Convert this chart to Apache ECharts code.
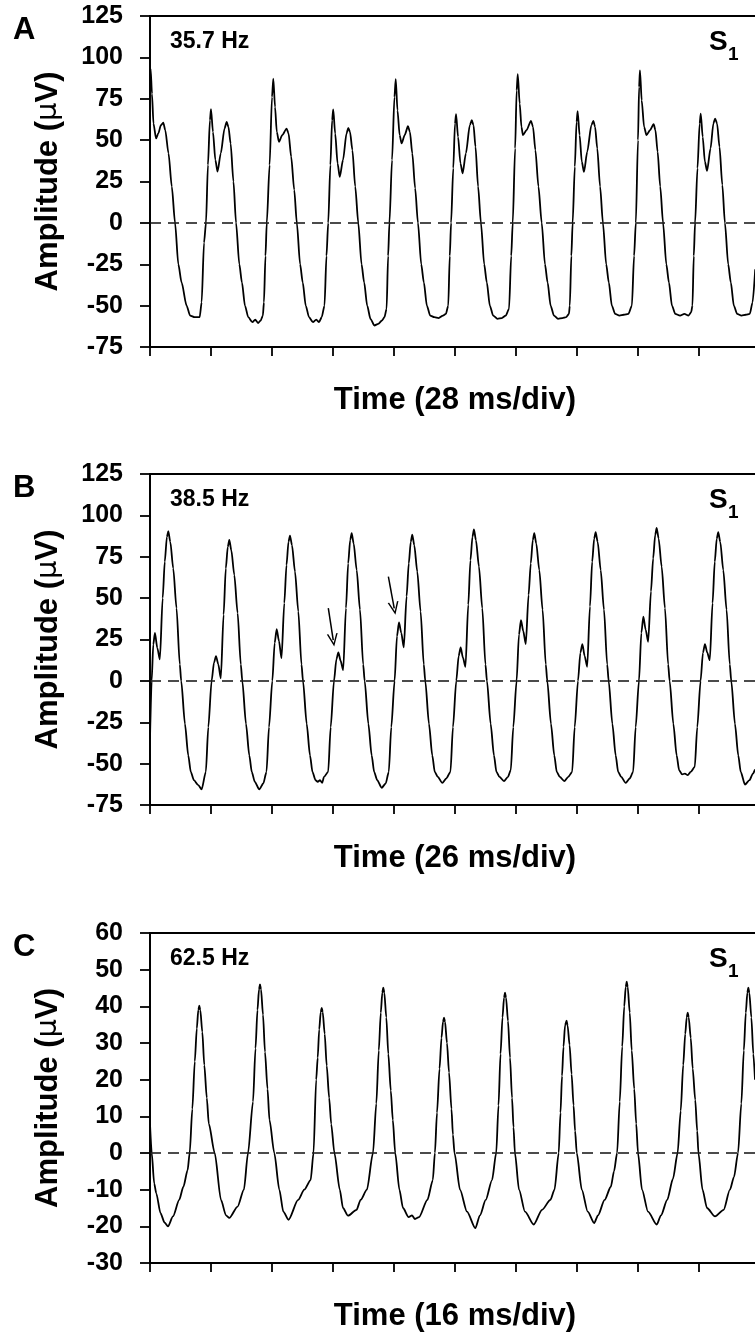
<!DOCTYPE html>
<html>
<head>
<meta charset="utf-8">
<script src="https://cdn.jsdelivr.net/npm/echarts@6/dist/echarts.min.js"></script>
<style>html,body{margin:0;padding:0;background:#fff}#c{width:755px;height:1336px}</style>
</head>
<body>
<div id="c"></div>
<script>
// ---------- DATA ----------
const panelLetters = ['A', 'B', 'C'];
const freqLabels = ['35.7 Hz', '38.5 Hz', '62.5 Hz'];
const xTitles = ['Time (28 ms/div)', 'Time (26 ms/div)', 'Time (16 ms/div)'];
const msPerDiv = [28, 26, 16];
const yMin = [-75, -75, -30];
const yMax = [125, 125, 60];
const yStep = [25, 25, 10];

// Panel A trace: [time ms, amplitude µV]
const traceA = [
 [0,86],[0.3,93],[0.9,78],[1.6,60],[2.8,51],[3.8,54],[5.0,59],[6.1,60.6],[7.0,56],[8.5,42],[10.0,22],[11.5,0],[13.0,-25],[14.5,-36],[16.8,-50],[18.4,-56],[20.5,-57],[22.8,-57],
 [23.7,-48],[24.8,-12],[25.7,0],[26.6,35],[27.5,62],[28.0,68.7],[28.9,55],[30.0,38],[31.0,31],[32.5,42],[34.2,57],[35.2,61],[36.0,58],[37.0,48],[38.3,25],[39.5,0],[41.0,-25],[42.2,-36],[43.6,-50],[45.1,-57],[47.0,-60],[48.3,-58.5],[49.6,-60.5],[50.8,-59],[51.8,-56],
 [52.3,-48],[53.0,-20],[53.6,0],[54.9,35],[56.0,76],[56.6,87.2],[57.4,70],[58.2,55],[59.2,49],[60.7,53],[62.7,57],[63.6,54],[64.8,40],[66.2,20],[67.4,0],[68.9,-25],[70.1,-36],[71.5,-50],[73.0,-57],[74.8,-60],[76.3,-58.5],[77.6,-60],[78.8,-57],
 [80.1,-50],[81.0,-20],[81.8,0],[82.8,35],[83.6,62],[84.1,68.5],[85.0,54],[86.1,36],[87.1,27.8],[88.6,38],[90.2,54],[91.0,57.4],[91.8,55],[92.9,44],[94.2,22],[95.6,0],[97.1,-25],[98.3,-36],[99.7,-50],[101.2,-58],[103.0,-62],[104.8,-61],[106.5,-59],[107.6,-57],
 [108.6,-52],[109.3,-20],[109.9,0],[111.1,38],[112.2,76],[112.8,86.8],[113.6,68],[114.6,53],[115.5,48],[116.9,53],[118.4,58.4],[119.3,55],[120.4,42],[121.7,21],[123.0,0],[124.5,-25],[125.7,-36],[127.1,-50],[128.6,-56],[130.5,-57],[132.5,-57.5],[134.5,-56],[135.8,-55],
 [136.9,-50],[137.6,-20],[138.2,0],[139.2,33],[140.0,60],[140.5,65.7],[141.4,52],[142.5,36],[143.5,30],[145.0,42],[146.8,59],[147.7,62],[148.5,59],[149.4,46],[150.6,22],[151.9,0],[153.4,-25],[154.6,-36],[156.0,-50],[157.5,-56],[159.5,-58],[161.5,-57.5],[163.3,-56],
 [164.8,-52],[165.8,-20],[166.5,0],[167.6,45],[168.3,80],[168.8,89.8],[169.7,72],[170.5,58],[171.2,53],[172.8,56],[174.9,61.6],[175.8,58],[176.9,44],[178.3,22],[179.8,0],[181.3,-25],[182.5,-36],[183.9,-50],[185.4,-56],[187.3,-58],[189.3,-57.5],[191.0,-57],[192.3,-55],
 [192.7,-50],[193.4,-20],[194.0,0],[195.0,34],[195.8,61],[196.3,67.5],[197.2,53],[198.2,37],[199.2,30.8],[200.7,43],[202.6,59],[203.5,61.6],[204.3,58],[205.3,45],[206.6,22],[207.9,0],[209.4,-25],[210.6,-36],[212.0,-50],[213.5,-55],[215.5,-56],[217.5,-55.5],[219.6,-55],
 [221.2,-50],[222.2,-20],[223.0,0],[224.0,50],[224.5,82],[224.9,92.2],[225.7,74],[226.8,58],[227.9,53],[229.5,56],[231.2,59.6],[232.0,56],[233.0,43],[234.2,22],[235.5,0],[237.0,-25],[238.2,-36],[239.6,-50],[241.1,-55],[243.3,-56],[245.3,-55],[247.2,-56],[248.4,-54],
 [249.0,-50],[249.6,-20],[250.2,0],[251.3,33],[252.3,60],[252.8,66],[253.7,52],[254.7,37],[255.7,31.4],[257.3,45],[258.6,60],[259.4,63],[260.3,60],[261.4,46],[262.7,23],[263.9,0],[265.4,-25],[266.6,-36],[268.0,-50],[269.5,-55],[271.5,-56],[273.5,-55.5],[275.3,-55],[276.6,-48],[277.8,-28]
];

// Panel B trace
const traceB = [
 [0,-35],[0.7,0],[1.4,22],[2.1,29],[3.1,20],[4.2,13],[5.4,50],[6.3,72],[7.2,87],[7.8,90.4],[8.65,84],[9.9,68],[11.3,44],[12.7,10],[13.3,0],[14.9,-26],[16.3,-45],[17.4,-55],[18.7,-60],[20.6,-63],[22.0,-65.6],
 [23.8,-55],[24.85,-28],[26.26,0],[27.28,11],[28.13,15],[29.11,10],[30.18,1.6],[31.37,40],[32.31,68],[33.16,81],[33.8,85.2],[34.65,79],[35.93,64],[37.34,41],[38.7,10],[39.34,0],[40.92,-26],[42.32,-45],[43.39,-55],[44.67,-61],[46.59,-65.6],[48.29,-62],
 [49.65,-55],[50.72,-28],[52.13,0],[53.15,23],[54.0,31.3],[54.98,24],[56.05,13.7],[57.24,47],[58.18,70],[59.03,84],[59.67,87.8],[60.52,82],[61.8,66],[63.21,42],[64.57,10],[65.21,0],[66.79,-26],[68.19,-45],[69.26,-55],[70.54,-60],[71.5,-61],[72.46,-60],[73.4,-61.6],[74.16,-58],
 [75.94,-55],[77.01,-28],[78.42,0],[79.44,13],[80.29,17.2],[81.27,12],[82.34,6.5],[83.53,44],[84.47,71],[85.32,85],[85.96,89.2],[86.81,83],[88.09,67],[89.5,43],[90.86,10],[91.5,0],[93.08,-26],[94.48,-45],[95.55,-55],[96.83,-60],[98.75,-64.6],[100.45,-62],
 [101.77,-55],[102.84,-28],[104.25,0],[105.27,27],[106.12,35.3],[107.1,29],[108.17,20.2],[109.36,51],[110.3,71],[111.15,84],[111.79,88.4],[112.64,82],[113.92,66],[115.33,42],[116.69,10],[117.33,0],[118.91,-26],[120.31,-45],[121.38,-55],[122.66,-58],[124.58,-61.6],[126.28,-59],
 [128.06,-55],[129.13,-28],[130.54,0],[131.56,15],[132.41,20.2],[133.39,14],[134.46,8.5],[135.65,46],[136.59,73],[137.44,87],[138.08,91.5],[138.93,85],[140.21,69],[141.62,44],[142.98,10],[143.62,0],[145.2,-26],[146.6,-45],[147.67,-55],[148.95,-58],[150.87,-60.6],[152.57,-58],
 [153.77,-54],[154.84,-28],[156.25,0],[157.27,28],[158.12,36.7],[159.1,30],[160.17,22.2],[161.36,52],[162.3,71],[163.15,85],[163.79,89.2],[164.64,83],[165.92,67],[167.33,43],[168.69,10],[169.33,0],[170.91,-26],[172.31,-45],[173.38,-55],[174.66,-58],[176.58,-60.6],[178.28,-58],
 [179.94,-55],[181.01,-28],[182.42,0],[183.44,17],[184.29,22.2],[185.27,15],[186.34,8.5],[187.53,45],[188.47,72],[189.32,86],[189.96,89.8],[190.81,84],[192.09,67],[193.5,43],[194.86,10],[195.5,0],[197.08,-26],[198.48,-45],[199.55,-55],[200.83,-58],[202.75,-61.6],[204.45,-59],
 [205.93,-55],[207.0,-28],[208.41,0],[209.43,29],[210.28,38.8],[211.26,31],[212.33,23.6],[213.52,54],[214.46,74],[215.31,88],[215.95,92.5],[216.8,86],[218.08,69],[219.49,44],[220.85,10],[221.49,0],[223.07,-26],[224.47,-45],[225.54,-54],[226.82,-56.5],[228.0,-56],[229.2,-57],[230.44,-55],
 [232.19,-52],[233.26,-28],[234.67,0],[235.69,17],[236.54,22.2],[237.52,17],[238.59,12.5],[239.78,47],[240.72,72],[241.57,86],[242.21,89.8],[243.06,84],[244.34,67],[245.75,43],[247.11,10],[247.75,0],[249.33,-26],[250.73,-45],[251.8,-55],[253.6,-62.6],[255.5,-60],[257.0,-56],[257.9,-53.5]
];

// Panel C trace
const traceC = [
 [0,8],[0.45,0],[1.1,-8.3],[1.65,-11],[2.75,-16.4],[3.83,-19],[4.72,-20],[6.03,-17.3],[7.66,-12.8],[8.76,-9.2],[9.86,-4.7],[10.41,0],
 [11.1,12],[11.75,25],[12.28,34],[12.67,39],[12.93,40.2],[13.19,39],[13.72,33],[14.24,24],[14.9,15],[15.42,8],[16.97,0],
 [18.62,-12.8],[19.93,-17],[20.8,-17.7],[22.98,-14.6],[24.63,-10],[25.71,0],
 [27.02,14],[27.67,28.5],[28.19,39],[28.59,44.6],[28.85,46],[29.12,44.6],[29.64,37.7],[30.16,27.6],[30.82,17.5],[31.34,9],[32.6,0],
 [33.92,-10],[34.97,-16],[36.33,-18.2],[38.85,-12.8],[40.47,-10],[42.13,-7.4],[42.89,0],
 [43.59,20],[43.99,26],[44.38,33.7],[44.78,38.4],[45.04,39.6],[45.3,38.4],[45.82,32.5],[46.35,23.8],[47.0,15],[47.53,7.9],[48.37,0],
 [49.78,-10],[50.62,-15],[51.94,-17.1],[54.17,-15.5],[55.24,-12.8],[56.89,-10],[58.49,0],
 [59.36,13.5],[60.01,28],[60.54,38.3],[60.93,43.7],[61.19,45.1],[61.46,43.7],[61.98,37],[62.51,27],[63.16,17],[63.69,9],[64.32,0],
 [65.42,-10],[66.36,-15],[67.83,-17.5],[68.72,-17],[69.51,-18],[70.56,-17.5],[72.76,-12.8],[74.18,-7.4],[74.73,0],
 [75.28,11],[75.94,23],[76.46,31.4],[76.86,35.8],[77.12,36.9],[77.38,35.8],[77.9,30],[78.43,22],[79.08,12],[79.45,5],[79.87,0],
 [81.31,-10],[83.15,-16],[85.33,-20.5],[86.54,-17],[88.06,-12.8],[89.71,-7.4],[90.81,0],
 [91.41,13],[91.94,27],[92.46,37],[92.86,42.4],[93.12,43.7],[93.38,42.4],[93.9,36],[94.43,26],[94.96,15],[95.35,7],[95.72,0],
 [96.79,-10],[98.36,-16],[100.65,-19.5],[102.82,-15.5],[105.02,-12.8],[106.1,-10],[107.2,0],
 [107.67,11],[108.07,21],[108.46,29],[108.86,34.8],[109.27,36.1],[109.53,34.8],[110.05,29.5],[110.58,21.5],[111.1,13],[111.5,6],[111.94,0],
 [113.25,-10],[114.82,-16],[116.51,-19.1],[117.51,-17],[119.24,-12.8],[120.87,-9.2],[121.71,-5],[122.52,0],
 [123.21,14],[123.86,29],[124.39,40],[124.78,45.3],[125.04,46.7],[125.3,45.3],[125.83,38.3],[126.35,28],[127.01,17.5],[127.53,8],[128.0,0],
 [129.05,-10],[130.63,-16],[132.91,-19.5],[134.04,-17],[135.66,-12.8],[137.18,-7],[138.39,0],
 [139.2,11.5],[139.86,24],[140.39,32.5],[140.78,37],[141.04,38.3],[141.3,37],[141.83,31.4],[142.35,23],[143.01,14.5],[143.53,6],[143.85,0],
 [144.92,-10],[146.1,-15],[148.2,-17.3],[150.46,-15.5],[152.11,-10],[153.19,-6.5],[154.24,0],
 [155.1,13.5],[155.76,28],[156.28,38.3],[156.68,43.7],[156.94,45.1],[157.2,43.7],[157.73,37],[158.25,27],[158.69,20]
];

// Arrows in panel B: [tailTime, tailAmp, headTime, headAmp]
const arrowsB = [
 [76.0, 44, 78.1, 24.6],
 [101.6, 63, 104.1, 43.8]
];

// ---------- LAYOUT ----------
const FONT = '"Liberation Sans", Arial, Helvetica, sans-serif';
const gridTop = [16, 474, 933];
const gridH = [331, 331, 330];
const traces = [traceA, traceB, traceC];

const chart = echarts.init(document.getElementById('c'), null, {renderer: 'canvas'});

const grids = [], xAxes = [], yAxes = [], series = [], graphics = [];
for (let i = 0; i < 3; i++) {
  grids.push({left: 150, top: gridTop[i], width: 610, height: gridH[i], show: true,
    borderColor: '#000', borderWidth: 1.8, backgroundColor: 'transparent', containLabel: false, outerBoundsMode: 'none'});
  xAxes.push({
    type: 'value', gridIndex: i, min: 0, max: msPerDiv[i] * 10, interval: msPerDiv[i],
    name: xTitles[i], nameLocation: 'middle', nameGap: 38,
    nameTextStyle: {fontFamily: FONT, fontWeight: 'bold', fontSize: 31, color: '#000'},
    axisLine: {show: true, onZero: false, lineStyle: {color: '#000', width: 1.8}},
    axisTick: {show: true, inside: false, length: 9, lineStyle: {color: '#000', width: 1.8}},
    axisLabel: {show: false}, splitLine: {show: false}
  });
  yAxes.push({
    type: 'value', gridIndex: i, min: yMin[i], max: yMax[i], interval: yStep[i],
    name: 'Amplitude ({m|μ}V)', nameLocation: 'middle', nameGap: 86,
    nameTextStyle: {fontFamily: FONT, fontWeight: 'bold', fontSize: 31, color: '#000',
      rich: {m: {fontFamily: '"DejaVu Sans", sans-serif', fontWeight: 'normal', fontSize: 29, color: '#000'}}},
    axisLine: {show: true, lineStyle: {color: '#000', width: 1.8}},
    axisTick: {show: true, inside: false, length: 10, lineStyle: {color: '#000', width: 1.8}},
    axisLabel: {show: true, margin: 27, fontFamily: FONT, fontWeight: 'bold', fontSize: 25, color: '#000'},
    splitLine: {show: false}
  });
  const mlData = [[{xAxis: 0, yAxis: 0, symbol: 'none'}, {xAxis: msPerDiv[i] * 10, yAxis: 0, symbol: 'none'}]];
  if (i === 1) {
    arrowsB.forEach(a => {
      mlData.push([
        {coord: [a[0], a[1]], symbol: 'none', lineStyle: {type: 'solid', color: '#000', width: 1.5}},
        {coord: [a[2], a[3]], symbol: 'path://M0,12 L5,0 L10,12 L8.6,12 L5,3.4 L1.4,12 Z', symbolSize: [11, 13],
          lineStyle: {type: 'solid', color: '#000', width: 1.5}}
      ]);
    });
  }
  series.push({
    type: 'line', xAxisIndex: i, yAxisIndex: i, data: traces[i],
    showSymbol: false, smooth: 0.25, smoothMonotone: 'x', animation: false,
    lineStyle: {color: '#000', width: 1.8}, itemStyle: {color: '#000'},
    markLine: {silent: true, animation: false, symbol: ['none', 'none'], label: {show: false},
      lineStyle: {type: [11, 7], color: '#111', width: 1.7}, data: mlData}
  });
  const top = gridTop[i];
  graphics.push({type: 'text', x: 13, y: top + 14, style: {text: panelLetters[i], font: 'bold 31px ' + FONT, fill: '#000', verticalAlign: 'middle', align: 'left'}});
  graphics.push({type: 'text', x: 170, y: top + 26, style: {text: freqLabels[i], font: 'bold 23px ' + FONT, fill: '#000', verticalAlign: 'middle', align: 'left'}});
  graphics.push({type: 'text', x: 709, y: top + 26.5, style: {text: 'S', font: 'bold 28px ' + FONT, fill: '#000', verticalAlign: 'middle', align: 'left'}});
  graphics.push({type: 'text', x: 728, y: top + 39, style: {text: '1', font: 'bold 19px ' + FONT, fill: '#000', verticalAlign: 'middle', align: 'left'}});
}

chart.setOption({
  animation: false,
  backgroundColor: '#fff',
  grid: grids, xAxis: xAxes, yAxis: yAxes, series: series, graphic: graphics
});
</script>
</body>
</html>
